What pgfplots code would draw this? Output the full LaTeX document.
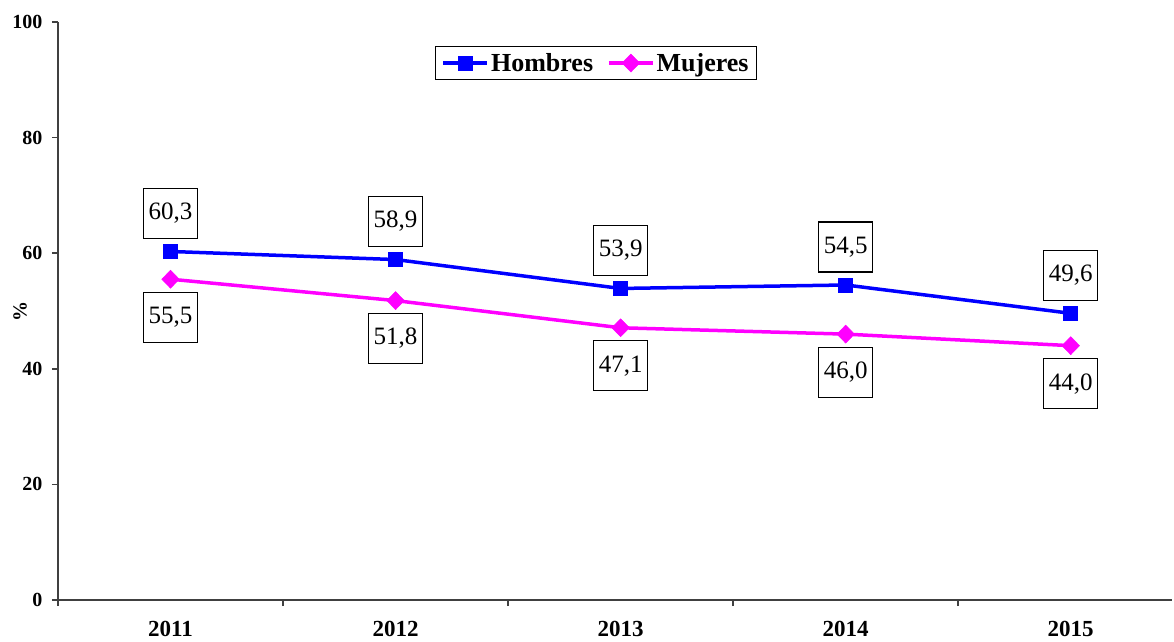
\documentclass[border=0pt]{standalone}
\usepackage{fontspec}
\setmainfont{Liberation Serif}
\usepackage{pgfplots}
\pgfplotsset{compat=1.18}
\usepackage{pgfplotstable}
\definecolor{hblue}{RGB}{0,0,255}
\definecolor{mmag}{RGB}{255,0,255}

\pgfplotstableread{
x y label
0 60.3 60,3
1 58.9 58,9
2 53.9 53,9
3 54.5 54,5
4 49.6 49,6
}\hombres
\pgfplotstableread{
x y label
0 55.5 55,5
1 51.8 51,8
2 47.1 47,1
3 46.0 46,0
4 44.0 44,0
}\mujeres

\begin{document}
\begin{tikzpicture}
\begin{axis}[
  scale only axis, width=1114pt, height=578pt,
  xmin=-0.5, xmax=4.45, ymin=0, ymax=100,
  axis x line=bottom, axis y line=left,
  axis line style={-, line width=1.6pt, color=black!75},
  xtick={0,1,2,3,4}, xticklabels={2011,2012,2013,2014,2015},
  minor xtick={-0.5,0.5,1.5,2.5,3.5},
  major x tick style={draw=none},
  ytick={0,20,40,60,80,100},
  tick align=outside, major tick length=6pt, minor tick length=6pt,
  tick style={line width=1.6pt, color=black!75},
  /pgf/number format/assume math mode=true,
  yticklabel style={font=\fontsize{20}{24}\selectfont\bfseries, xshift=-6pt},
  xticklabel style={font=\fontsize{23}{27}\selectfont\bfseries, yshift=-12pt},
  ylabel={\%},
  every axis y label/.style={at={(axis description cs:-0.034,0.5)}, rotate=90, anchor=center, font=\fontsize{20}{24}\selectfont\bfseries},
  legend columns=2,
  legend style={at={(0.483,0.929)}, anchor=center, draw=black, line width=1.3pt,
    font=\fontsize{26}{31}\selectfont\bfseries, inner xsep=6pt, inner ysep=5pt,
    /tikz/every even column/.append style={column sep=12pt}},
  legend image code/.code={\draw[mark repeat=2,mark phase=2,#1] plot coordinates {(0pt,0pt) (22pt,0pt) (44pt,0pt)};},
  clip=false,
]
\addplot[hblue, line width=3.5pt, mark=square*, mark size=7pt, mark options={solid, line width=0.5pt},
  point meta=explicit symbolic, nodes near coords,
  every node near coord/.append style={anchor=center, yshift=38pt, draw=black, line width=1.2pt, fill=white, text=black,
    font=\fontsize{25}{30}\selectfont, inner sep=5pt, minimum height=50pt}]
  table[x=x, y=y, meta=label]{\hombres};
\addlegendentry{Hombres}
\addplot[mmag, line width=3.5pt, mark=diamond*, mark size=9pt, mark options={solid, line width=0.5pt, xscale=1.3},
  point meta=explicit symbolic, nodes near coords,
  every node near coord/.append style={anchor=center, yshift=-38pt, draw=black, line width=1.2pt, fill=white, text=black,
    font=\fontsize{25}{30}\selectfont, inner sep=5pt, minimum height=50pt}]
  table[x=x, y=y, meta=label]{\mujeres};
\addlegendentry{Mujeres}
\end{axis}
\pgfresetboundingbox
\path[use as bounding box] ([shift={(-58pt,-41pt)}]current axis.south west) rectangle ([shift={(2pt,22pt)}]current axis.north east);
\end{tikzpicture}
\end{document}
